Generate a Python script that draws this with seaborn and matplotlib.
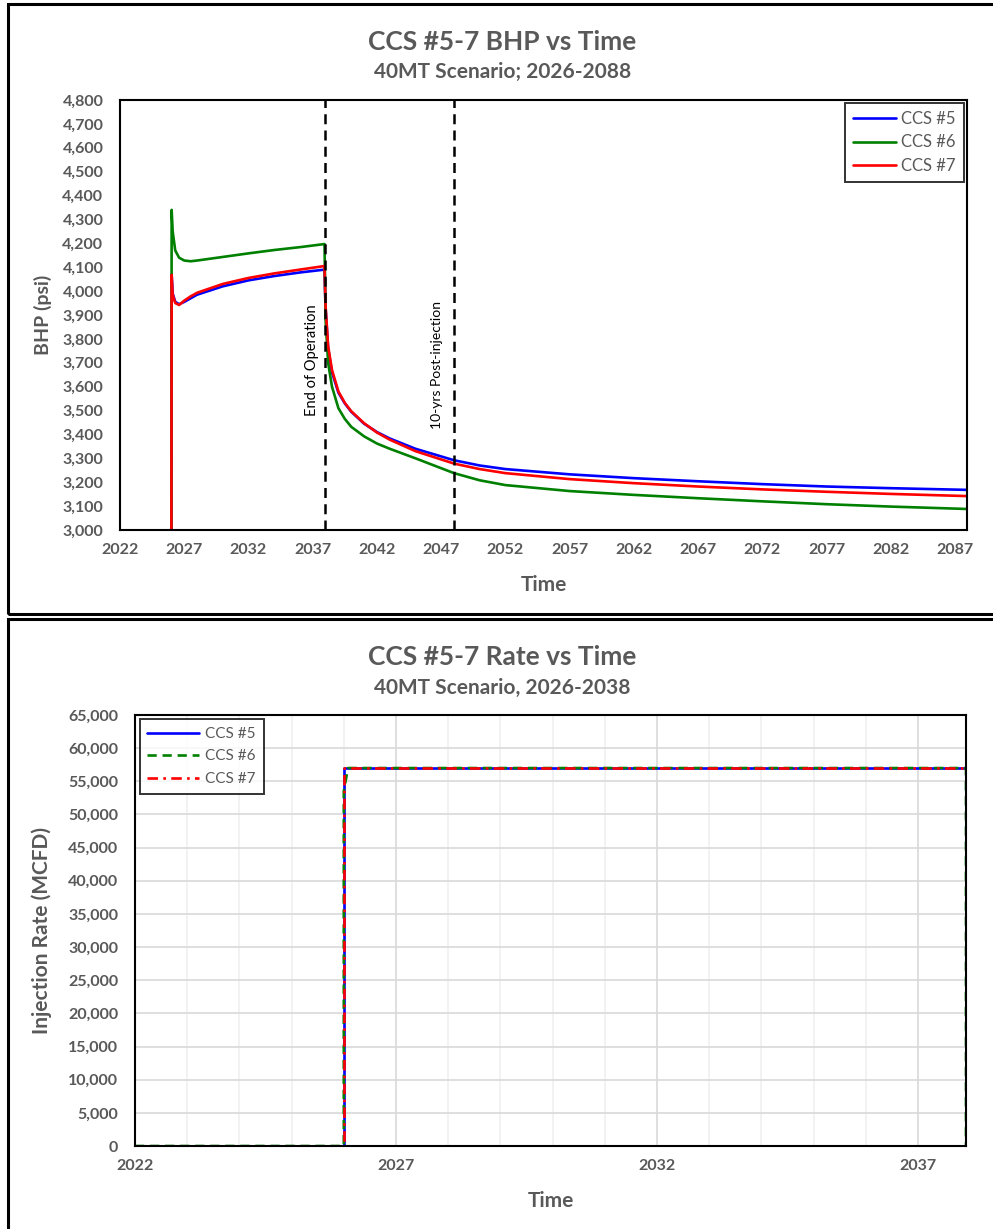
import numpy as np
import pandas as pd
import matplotlib
matplotlib.use("Agg")
import matplotlib.pyplot as plt
from matplotlib.patches import Rectangle
import seaborn as sns

# ---- BHP data (decimal years, psi) ----
bhp_time = [2026.0, 2026.02, 2026.1, 2026.3, 2026.6, 2027.0, 2027.5, 2028, 2030, 2032,
            2034, 2036, 2037.92, 2038.0, 2038.2, 2038.5, 2039, 2039.5, 2040, 2041,
            2042, 2043, 2045, 2048, 2050, 2052, 2057, 2062, 2067, 2072, 2077, 2082, 2087.93]
bhp_ccs5 = [2950, 4070, 3990, 3955, 3945, 3955, 3970, 3985, 4020, 4045,
            4063, 4078, 4090, 3930, 3760, 3660, 3575, 3530, 3495, 3445,
            3410, 3383, 3340, 3292, 3270, 3255, 3233, 3217, 3204, 3192, 3182, 3175, 3168]
bhp_ccs6 = [2950, 4340, 4250, 4170, 4140, 4128, 4125, 4128, 4143, 4158,
            4172, 4184, 4197, 3880, 3700, 3600, 3510, 3465, 3432, 3392,
            3362, 3340, 3300, 3238, 3208, 3188, 3163, 3147, 3133, 3120, 3108, 3098, 3088]
bhp_ccs7 = [2950, 4068, 3985, 3950, 3942, 3960, 3978, 3993, 4030, 4055,
            4074, 4090, 4105, 3940, 3770, 3670, 3580, 3532, 3497, 3447,
            3408, 3378, 3330, 3278, 3255, 3238, 3213, 3196, 3182, 3170, 3160, 3151, 3142]

# ---- injection rate data (MCFD) ----
rate_time = [2022.0, 2026.0, 2026.0, 2026.08, 2037.92, 2037.92]
rate_ccs5 = [0, 0, 57000, 57000, 57000, 0]
rate_ccs6 = [0, 0, 53500, 57000, 57000, 0]
rate_ccs7 = [0, 0, 57000, 57000, 57000, 0]

bhp_xticks = list(range(2022, 2088, 5))
rate_xticks = [2022, 2027, 2032, 2037]
rate_minor = list(range(2022, 2038))
bhp_yticks = list(range(3000, 4801, 100))
rate_yticks = list(range(0, 65001, 5000))

wells = ["CCS #5", "CCS #6", "CCS #7"]
colors = {"CCS #5": "#0000ff", "CCS #6": "#008000", "CCS #7": "#ff0000"}

bhp_df = pd.concat([
    pd.DataFrame({"Time": bhp_time, "BHP": v, "Well": w})
    for w, v in zip(wells, [bhp_ccs5, bhp_ccs6, bhp_ccs7])
], ignore_index=True)
rate_df = pd.concat([
    pd.DataFrame({"Time": rate_time, "Rate": v, "Well": w})
    for w, v in zip(wells, [rate_ccs5, rate_ccs6, rate_ccs7])
], ignore_index=True)

sns.set_style("white")
plt.rcParams["font.family"] = ["Lato", "DejaVu Sans"]
gray = "#595959"

fig = plt.figure(figsize=(9.93, 12.29), dpi=100)

# panel borders
for (x0, y0, x1, y1) in [(8, 4, 998, 614), (8, 619, 998, 1235)]:
    fig.patches.append(Rectangle((x0 / 993, 1 - y1 / 1229), (x1 - x0) / 993, (y1 - y0) / 1229,
                                 transform=fig.transFigure, fill=False, edgecolor="black",
                                 linewidth=2.2, zorder=0))


def style_ticks(ax, xticks, yticks):
    ax.set_xticks(xticks)
    ax.set_xticklabels([str(t) for t in xticks], fontweight="bold", color=gray, fontsize=11.5)
    ax.set_yticks(yticks)
    ax.set_yticklabels([f"{t:,}" for t in yticks], fontweight="bold", color=gray, fontsize=11.5)
    ax.tick_params(axis="x", which="both", length=0, pad=9)
    ax.tick_params(axis="y", which="both", length=0, pad=12)
    for s in ax.spines.values():
        s.set_visible(True)
        s.set_color("black")
        s.set_linewidth(1.5)


# ---------------- top: BHP ----------------
ax1 = fig.add_axes([120 / 993, 1 - 530 / 1229, 847 / 993, 430 / 1229])
sns.lineplot(data=bhp_df, x="Time", y="BHP", hue="Well", palette=colors,
             estimator=None, sort=False, linewidth=1.9, ax=ax1)
ax1.axvline(2037.95, color="black", linestyle=(0, (4, 2.5)), linewidth=1.8)
ax1.axvline(2048.0, color="black", linestyle=(0, (4, 2.5)), linewidth=1.8)
ax1.text(2036.95, 3712, "End of Operation", rotation=90, ha="center", va="center",
         fontsize=10.5, color="black")
ax1.text(2046.7, 3690, "10-yrs Post-injection", rotation=90, ha="center", va="center",
         fontsize=10, color="black")
ax1.set_xlim(2022, 2087.93)
ax1.set_ylim(3000, 4800)
style_ticks(ax1, bhp_xticks, bhp_yticks)
ax1.set_xlabel("Time", fontsize=15, fontweight="bold", color=gray)
ax1.set_ylabel("BHP (psi)", fontsize=14, fontweight="bold", color=gray)
ax1.xaxis.set_label_coords(0.5, -0.105)
ax1.yaxis.set_label_coords(-0.080, 0.5)
ax1.legend(loc="upper right", frameon=True, fancybox=False, edgecolor="black",
           fontsize=12, handlelength=2.6, handletextpad=0.3, labelcolor=gray,
           borderpad=0.5, labelspacing=0.45, borderaxespad=0.15,
           bbox_to_anchor=(0.9995, 1.0))
ax1.get_legend().get_frame().set_linewidth(1.4)

# ---------------- bottom: rate ----------------
ax2 = fig.add_axes([135 / 993, 1 - 1146 / 1229, 831 / 993, 431 / 1229])
dashes = {"CCS #5": "", "CCS #6": (3.5, 2.2), "CCS #7": (4, 2, 1, 2)}
sns.lineplot(data=rate_df, x="Time", y="Rate", hue="Well", style="Well", palette=colors,
             dashes=dashes, estimator=None, sort=False, linewidth=1.9, ax=ax2)
ax2.set_xlim(2022, 2037.92)
ax2.set_ylim(0, 65000)
style_ticks(ax2, rate_xticks, rate_yticks)
ax2.set_xticks(rate_minor, minor=True)
ax2.grid(which="major", color="#d9d9d9", linewidth=1.2)
ax2.grid(which="minor", axis="x", color="#f0f0f0", linewidth=1.2)
ax2.set_axisbelow(True)
ax2.set_xlabel("Time", fontsize=15, fontweight="bold", color=gray)
ax2.set_ylabel("Injection Rate (MCFD)", fontsize=15, fontweight="bold", color=gray)
ax2.xaxis.set_label_coords(0.5, -0.105)
ax2.yaxis.set_label_coords(-0.100, 0.5)
ax2.legend(loc="upper left", frameon=True, fancybox=False, edgecolor="black",
           fontsize=11, handlelength=3.4, handletextpad=0.4, labelcolor=gray,
           borderpad=0.5, labelspacing=0.55, borderaxespad=0.15,
           bbox_to_anchor=(0.003, 0.995))
ax2.get_legend().get_frame().set_linewidth(1.4)

fig.text(0.506, 1 - 42 / 1229, "CCS #5-7 BHP vs Time", ha="center", va="center",
         fontsize=19, fontweight="bold", color=gray)
fig.text(0.506, 1 - 72 / 1229, "40MT Scenario; 2026-2088", ha="center", va="center",
         fontsize=15, fontweight="bold", color=gray)
fig.text(0.506, 1 - 657 / 1229, "CCS #5-7 Rate vs Time", ha="center", va="center",
         fontsize=19, fontweight="bold", color=gray)
fig.text(0.506, 1 - 688 / 1229, "40MT Scenario, 2026-2038", ha="center", va="center",
         fontsize=15, fontweight="bold", color=gray)

fig.savefig("out.png", dpi=100)
